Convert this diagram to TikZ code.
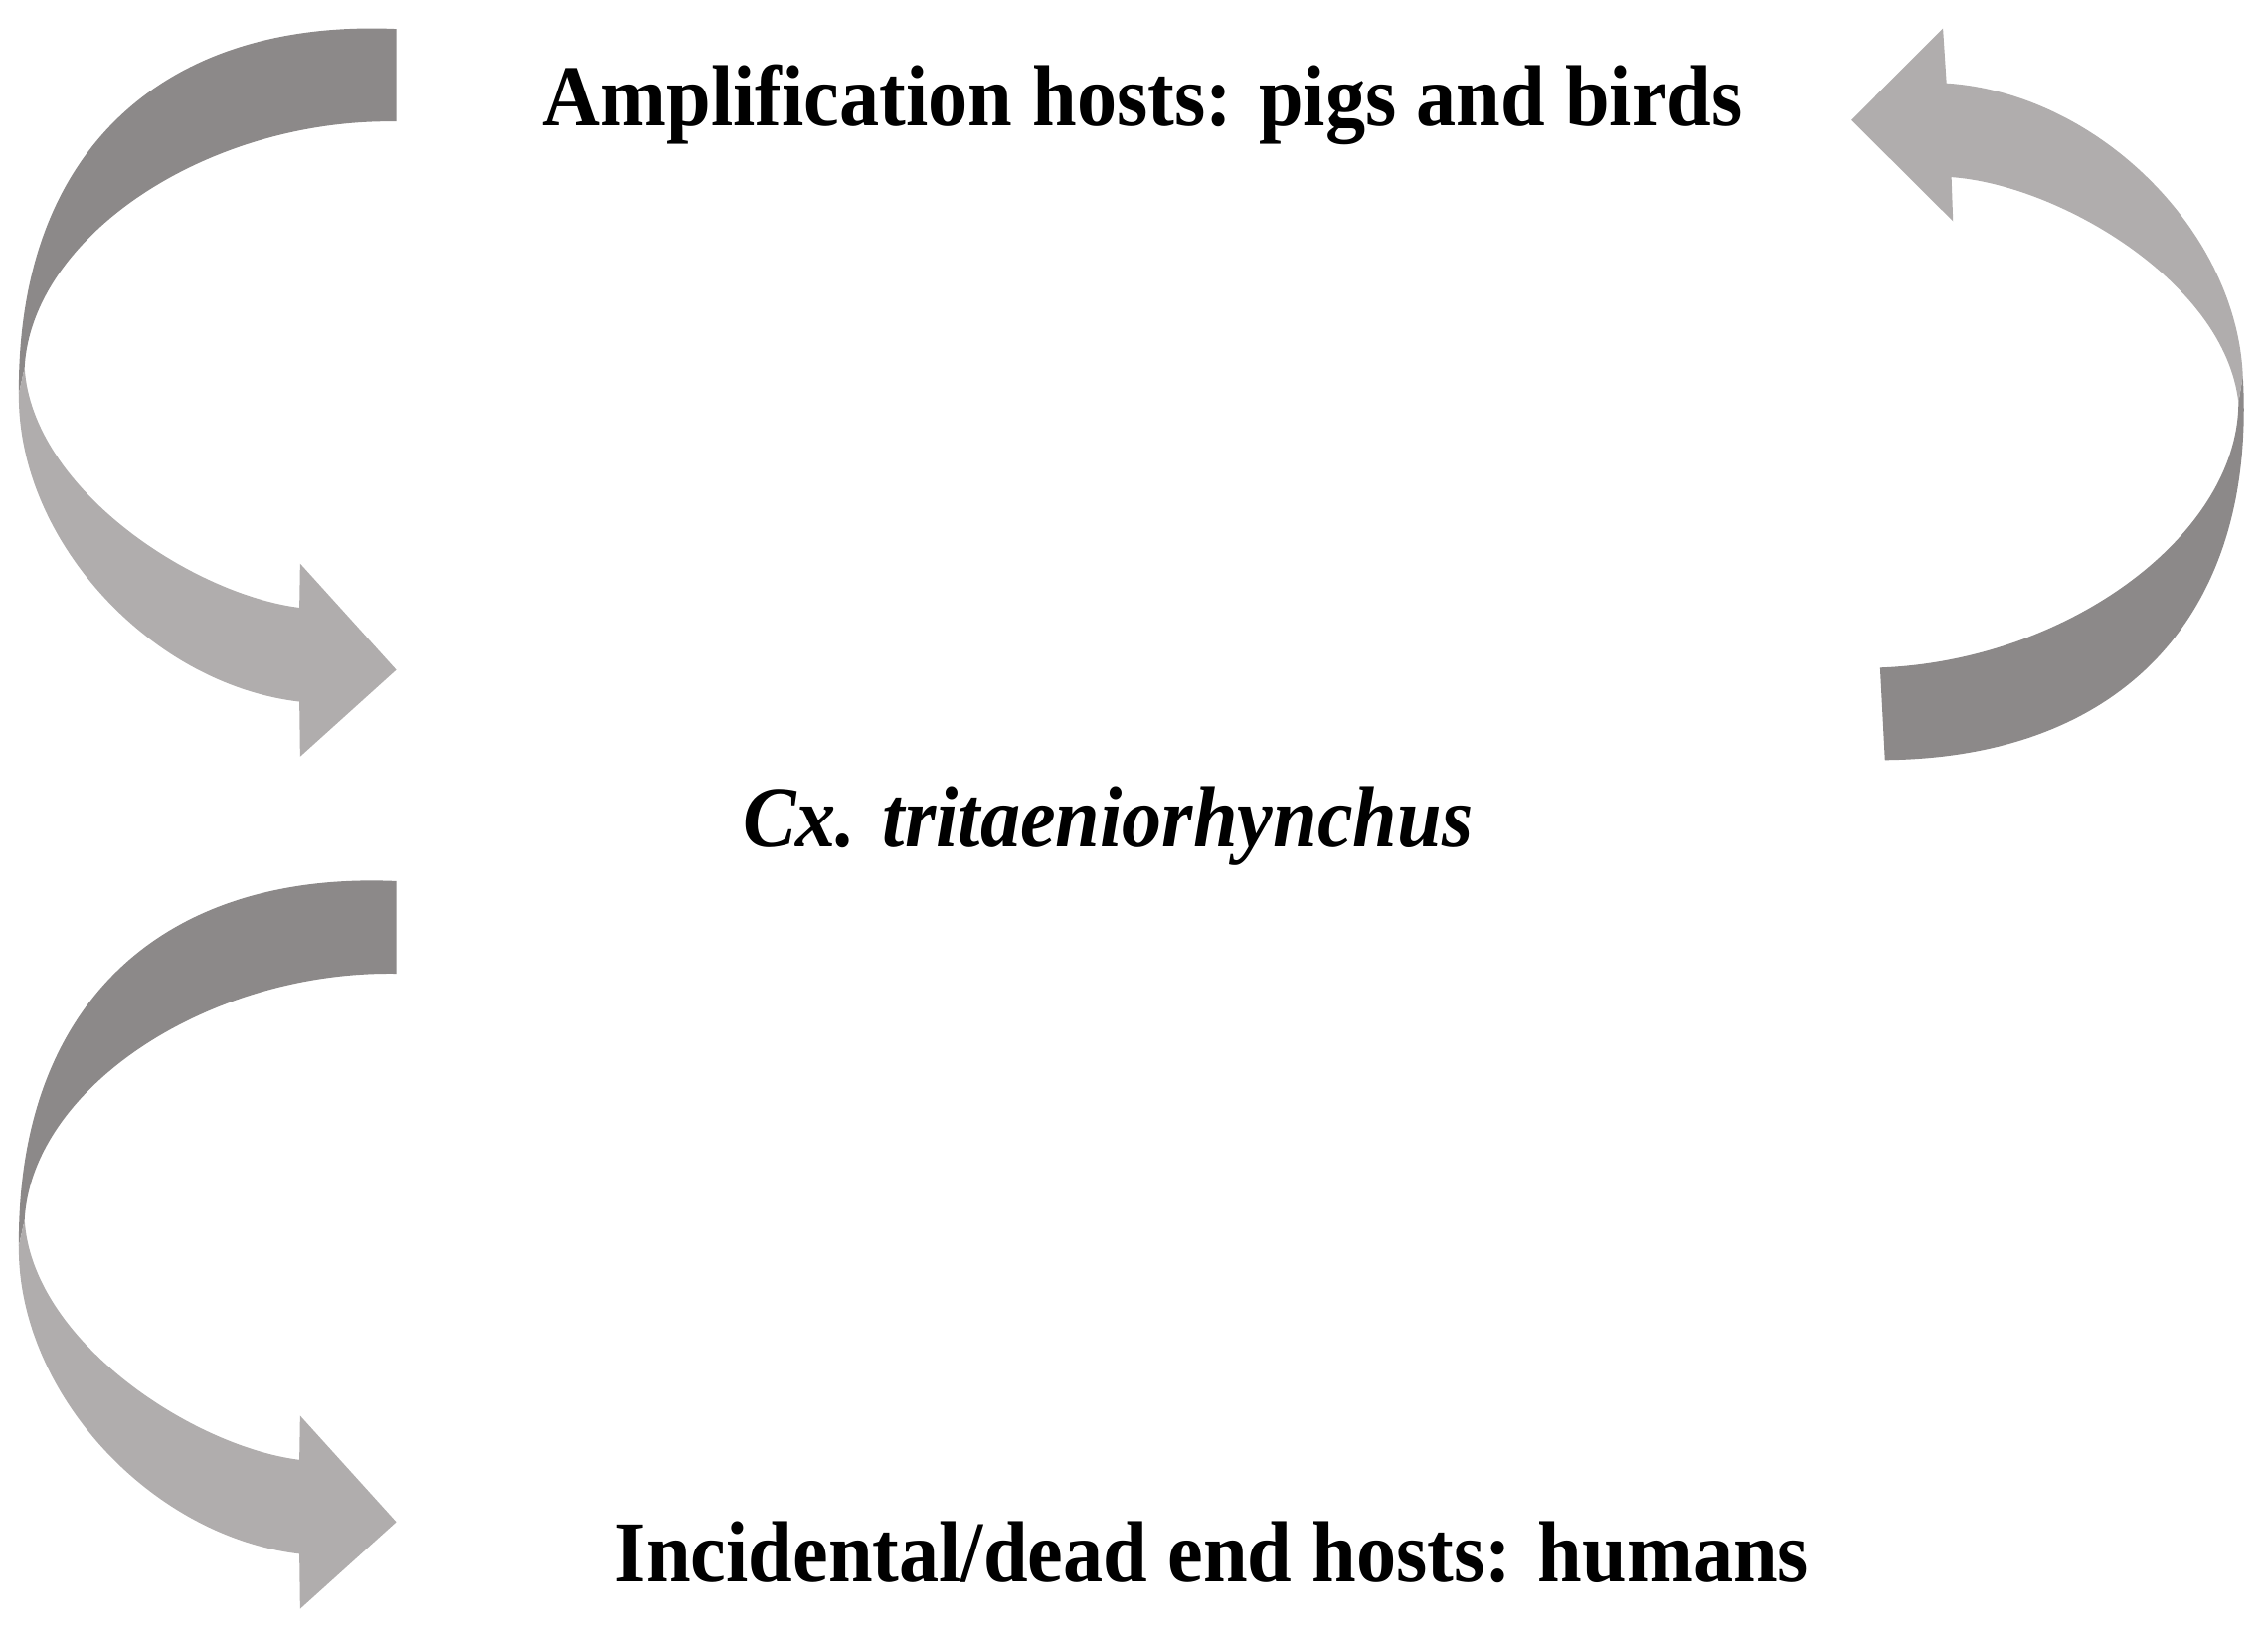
\documentclass[tikz,border=0pt]{standalone}
\usepackage{fontspec}
\setmainfont{Liberation Serif}[FakeStretch=0.92]
\usetikzlibrary{positioning}
\definecolor{ribbondark}{HTML}{8C8989}
\definecolor{ribbonlight}{HTML}{B0ADAD}
\tikzset{
  pics/ribbon/.style={code={
    \fill[ribbondark] (0,-443) .. controls (-160,-450) and (-262,-360) .. (-261,-191)
      -- (-257,-209) .. controls (-252,-300) and (-130,-381) .. (0,-379) -- cycle;
    \fill[ribbonlight] (-261,-191) .. controls (-262,-90) and (-170,10) .. (-67,22)
      -- (-66.5,60) -- (0,0) -- (-66.5,-73.5) -- (-67,-43)
      .. controls (-140,-52) and (-252,-125) .. (-257,-209) -- cycle;
  }}
}
\begin{document}
\begin{tikzpicture}[x=0.4pt,y=-0.4pt,
  hostlabel/.style={font=\fontsize{24}{28}\selectfont\bfseries,inner sep=0pt,anchor=base},
  vectorlabel/.style={hostlabel,font=\fontsize{24}{28}\selectfont\bfseries\itshape}
  ]
\useasboundingbox (0,0) rectangle (1568,1133);
\node[hostlabel] (amp) at (790,87) {Amplification hosts: pigs and birds};
\node[vectorlabel] (vector) at (766,585) {Cx. tritaeniorhynchus};
\node[hostlabel] (incid) at (838,1093) {Incidental/dead end hosts: humans};

\pic (toploop) at (274,463) {ribbon};
\pic (backloop) [rotate=183] at (1280,83) {ribbon};
\pic (lowloop) at (274,1052) {ribbon};
\end{tikzpicture}
\end{document}
